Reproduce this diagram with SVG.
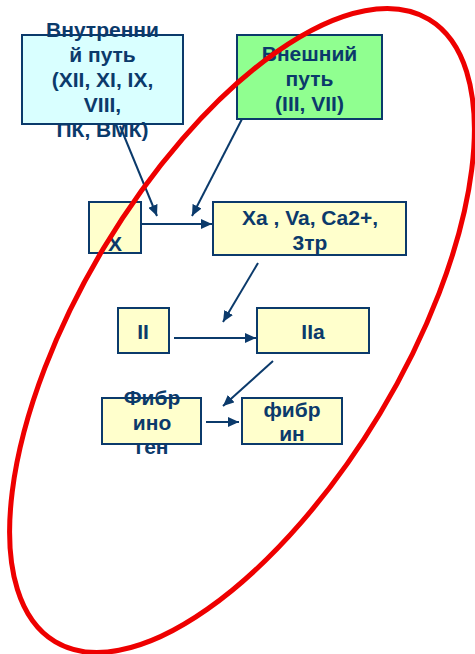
<svg xmlns="http://www.w3.org/2000/svg" width="475" height="654" viewBox="0 0 475 654">
<style>
.box{stroke:#0b3a6b;stroke-width:2;}
.y{fill:#ffffcc;}
.t{font-family:"Liberation Sans",Arial,sans-serif;font-weight:bold;font-size:21px;fill:#0b3a6b;text-anchor:middle;}
.c{stroke:#0b3a6b;stroke-width:2;fill:none;marker-end:url(#ah);}
</style>
<defs>
<marker id="ah" markerUnits="userSpaceOnUse" markerWidth="12" markerHeight="10" refX="11" refY="5" orient="auto">
<path d="M0,0 L11,5 L0,10 Z" fill="#0b3a6b"/>
</marker>
</defs>
<rect width="475" height="654" fill="#ffffff"/>
<g id="intrinsic">
<rect class="box" x="22" y="35" width="161" height="89" fill="#d9ffff"/>
<text class="t" x="102.5"><tspan x="102.5" y="36.5">Внутренни</tspan><tspan x="102.5" y="61.5">й путь</tspan><tspan x="102.5" y="86.5">(XII, XI, IX,</tspan><tspan x="102.5" y="111.5">VIII,</tspan><tspan x="102.5" y="136.5">ПК, ВМК)</tspan></text>
</g>
<g id="extrinsic">
<rect class="box" x="237" y="35" width="145" height="84" fill="#90ff90"/>
<text class="t"><tspan x="309.5" y="61">Внешний</tspan><tspan x="309.5" y="86">путь</tspan><tspan x="309.5" y="111">(III, VII)</tspan></text>
</g>
<g id="x">
<rect class="box y" x="89" y="202" width="52" height="51"/>
<text class="t" x="115" y="250.5">X</text>
</g>
<g id="xa">
<rect class="box y" x="213" y="202" width="193" height="53"/>
<text class="t"><tspan x="310" y="224.5">Xa , Va, Ca2+,</tspan><tspan x="310" y="249.5">3тр</tspan></text>
</g>
<g id="ii">
<rect class="box y" x="118" y="308" width="51" height="45"/>
<text class="t" x="143" y="339">II</text>
</g>
<g id="iia">
<rect class="box y" x="257" y="308" width="112" height="45"/>
<text class="t" x="313" y="339">IIa</text>
</g>
<g id="fibrinogen">
<rect class="box y" x="102" y="398" width="99" height="46"/>
<text class="t"><tspan x="152" y="405">Фибр</tspan><tspan x="152" y="429.5">ино</tspan><tspan x="152" y="454">ген</tspan></text>
</g>
<g id="fibrin">
<rect class="box y" x="242" y="398" width="100" height="46"/>
<text class="t"><tspan x="292" y="416.5">фибр</tspan><tspan x="292" y="440.5">ин</tspan></text>
</g>
<g id="connectors">
<line class="c" x1="120" y1="126" x2="157" y2="216"/>
<line class="c" x1="242" y1="119" x2="192" y2="216"/>
<line class="c" x1="141" y1="224" x2="212" y2="224"/>
<line class="c" x1="258" y1="263" x2="223" y2="322"/>
<line class="c" x1="174" y1="338" x2="256" y2="338"/>
<line class="c" x1="273" y1="361" x2="223" y2="406"/>
<line class="c" x1="206" y1="422" x2="239" y2="422"/>
</g>
<g id="highlight">
<ellipse cx="242" cy="330.5" rx="363" ry="161" transform="rotate(-59 242 330.5)" fill="none" stroke="#ee0000" stroke-width="5"/>
</g>
</svg>
